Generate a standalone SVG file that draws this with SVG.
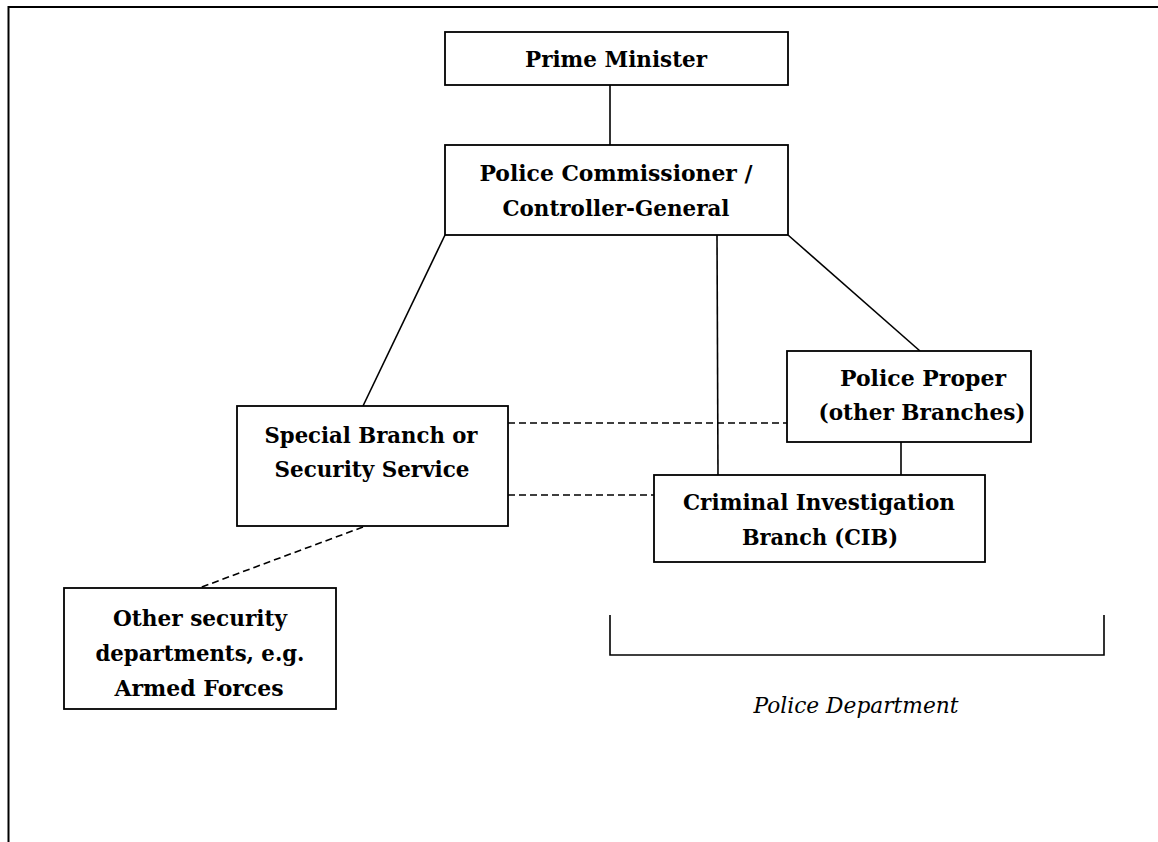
<svg xmlns="http://www.w3.org/2000/svg" width="1158" height="842" viewBox="0 0 1158 842">
  <style>
    .box { fill: #ffffff; stroke: #000000; stroke-width: 1.8; }
    .line { fill: none; stroke: #000000; stroke-width: 1.6; }
    .dash { fill: none; stroke: #000000; stroke-width: 1.6; stroke-dasharray: 7 4; }
    .frame { fill: none; stroke: #000000; stroke-width: 2; }
    .lbl { font-family: "DejaVu Serif", "Liberation Serif", serif; font-weight: bold; font-size: 23px; fill: #000000; text-anchor: middle; }
    .cap { font-family: "DejaVu Serif", "Liberation Serif", serif; font-style: italic; font-size: 22px; fill: #000000; text-anchor: middle; }
  </style>
  <rect width="1158" height="842" fill="#ffffff"/>

  <!-- page frame: top and left edges -->
  <path class="frame" d="M8.5,842 V7 H1158"/>

  <!-- connectors -->
  <g id="connectors">
    <line class="line" x1="610" y1="85" x2="610" y2="145"/>
    <line class="line" x1="445" y1="235" x2="363" y2="406"/>
    <line class="line" x1="717" y1="235" x2="718" y2="475"/>
    <line class="line" x1="788" y1="235" x2="920" y2="351"/>
    <line class="line" x1="901" y1="442" x2="901" y2="475"/>
    <line class="dash" x1="508" y1="423" x2="787" y2="423"/>
    <line class="dash" x1="508" y1="495" x2="654" y2="495"/>
    <line class="dash" x1="363" y1="527" x2="199" y2="588"/>
  </g>

  <g id="prime-minister">
    <rect class="box" x="445" y="32" width="343" height="53"/>
    <text class="lbl" x="616" y="67" textLength="182" lengthAdjust="spacingAndGlyphs">Prime Minister</text>
  </g>

  <g id="police-commissioner">
    <rect class="box" x="445" y="145" width="343" height="90"/>
    <text class="lbl" x="616" y="181" textLength="273" lengthAdjust="spacingAndGlyphs">Police Commissioner /</text>
    <text class="lbl" x="616" y="216" textLength="227" lengthAdjust="spacingAndGlyphs">Controller-General</text>
  </g>

  <g id="special-branch">
    <rect class="box" x="237" y="406" width="271" height="120"/>
    <text class="lbl" x="371" y="443" textLength="213" lengthAdjust="spacingAndGlyphs">Special Branch or</text>
    <text class="lbl" x="372" y="477" textLength="195" lengthAdjust="spacingAndGlyphs">Security Service</text>
  </g>

  <g id="police-proper">
    <rect class="box" x="787" y="351" width="244" height="91"/>
    <text class="lbl" x="923" y="386" textLength="166" lengthAdjust="spacingAndGlyphs">Police Proper</text>
    <text class="lbl" x="922" y="420" textLength="207" lengthAdjust="spacingAndGlyphs">(other Branches)</text>
  </g>

  <g id="cib">
    <rect class="box" x="654" y="475" width="331" height="87"/>
    <text class="lbl" x="819" y="510" textLength="272" lengthAdjust="spacingAndGlyphs">Criminal Investigation</text>
    <text class="lbl" x="820" y="545" textLength="156" lengthAdjust="spacingAndGlyphs">Branch (CIB)</text>
  </g>

  <g id="other-security">
    <rect class="box" x="64" y="588" width="272" height="121"/>
    <text class="lbl" x="200" y="626" textLength="174" lengthAdjust="spacingAndGlyphs">Other security</text>
    <text class="lbl" x="200" y="661" textLength="209" lengthAdjust="spacingAndGlyphs">departments, e.g.</text>
    <text class="lbl" x="199" y="696" textLength="169" lengthAdjust="spacingAndGlyphs">Armed Forces</text>
  </g>

  <!-- bracket grouping the police department branches -->
  <g id="police-department">
    <path class="line" d="M610,615 V655 H1104 V615" stroke-width="1.8"/>
    <text class="cap" x="856" y="713" textLength="205" lengthAdjust="spacingAndGlyphs">Police Department</text>
  </g>
</svg>
